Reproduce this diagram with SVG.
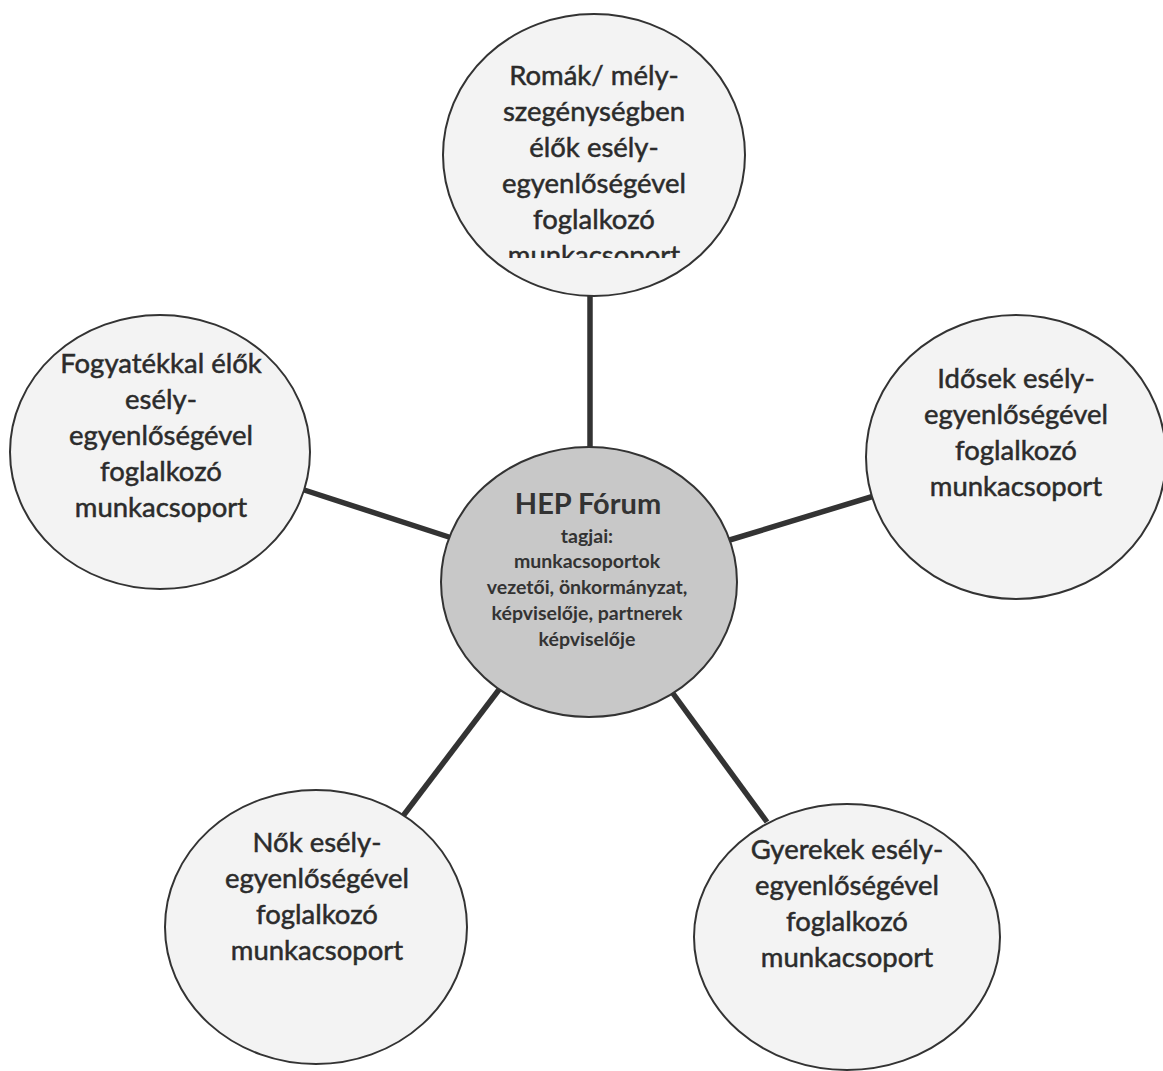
<svg xmlns="http://www.w3.org/2000/svg" width="1163" height="1071" viewBox="0 0 1163 1071">
  <style>
    .node { fill: #f3f3f3; stroke: #333333; stroke-width: 2; }
    .hub { fill: #c8c8c8; stroke: #333333; stroke-width: 2; }
    .conn { stroke: #333333; stroke-width: 5.5; stroke-linecap: butt; fill: none; }
    .t { font-family: Lato, "Liberation Sans", sans-serif; font-size: 27.5px; fill: #2b2b2b; stroke: #2b2b2b; stroke-width: 0.5; text-anchor: middle; }
    .h1 { font-family: Lato, "Liberation Sans", sans-serif; font-size: 29px; font-weight: bold; fill: #333333; text-anchor: middle; }
    .h2 { font-family: Lato, "Liberation Sans", sans-serif; font-size: 19.5px; font-weight: bold; fill: #333333; text-anchor: middle; }
  </style>
  <defs>
    <clipPath id="topclip"><rect x="430" y="0" width="330" height="258"/></clipPath>
  </defs>
  <rect x="0" y="0" width="1163" height="1071" fill="#ffffff"/>
  <g id="connectors">
    <line class="conn" x1="590" y1="285" x2="590" y2="460"/>
    <line class="conn" x1="295" y1="487" x2="455" y2="539"/>
    <line class="conn" x1="723" y1="542" x2="884" y2="493"/>
    <line class="conn" x1="501" y1="687" x2="403" y2="816"/>
    <line class="conn" x1="669" y1="688" x2="767" y2="822"/>
  </g>
  <g id="node-roma">
    <ellipse class="node" cx="594" cy="155" rx="151" ry="141"/>
    <g clip-path="url(#topclip)">
      <text class="t" x="594" y="85">Romák/ mély-</text>
      <text class="t" x="594" y="121">szegénységben</text>
      <text class="t" x="594" y="157">élők esély-</text>
      <text class="t" x="594" y="193">egyenlőségével</text>
      <text class="t" x="594" y="229">foglalkozó</text>
      <text class="t" x="594" y="265">munkacsoport</text>
    </g>
  </g>
  <g id="node-fogyatekkal">
    <ellipse class="node" cx="160" cy="452" rx="150" ry="137"/>
    <text class="t" x="161" y="373">Fogyatékkal élők</text>
    <text class="t" x="161" y="409">esély-</text>
    <text class="t" x="161" y="445">egyenlőségével</text>
    <text class="t" x="161" y="481">foglalkozó</text>
    <text class="t" x="161" y="517">munkacsoport</text>
  </g>
  <g id="node-idosek">
    <ellipse class="node" cx="1016" cy="457" rx="150" ry="142"/>
    <text class="t" x="1016" y="388">Idősek esély-</text>
    <text class="t" x="1016" y="424">egyenlőségével</text>
    <text class="t" x="1016" y="460">foglalkozó</text>
    <text class="t" x="1016" y="496">munkacsoport</text>
  </g>
  <g id="node-nok">
    <ellipse class="node" cx="316" cy="927" rx="151" ry="137"/>
    <text class="t" x="317" y="852">Nők esély-</text>
    <text class="t" x="317" y="888">egyenlőségével</text>
    <text class="t" x="317" y="924">foglalkozó</text>
    <text class="t" x="317" y="960">munkacsoport</text>
  </g>
  <g id="node-gyerekek">
    <ellipse class="node" cx="847" cy="937" rx="153" ry="133"/>
    <text class="t" x="847" y="859">Gyerekek esély-</text>
    <text class="t" x="847" y="895">egyenlőségével</text>
    <text class="t" x="847" y="931">foglalkozó</text>
    <text class="t" x="847" y="967">munkacsoport</text>
  </g>
  <g id="node-hep">
    <ellipse class="hub" cx="589" cy="582" rx="148" ry="135"/>
    <text class="h1" x="588" y="514">HEP Fórum</text>
    <text class="h2" x="587" y="543">tagjai:</text>
    <text class="h2" x="587" y="568">munkacsoportok</text>
    <text class="h2" x="587" y="594">vezetői, önkormányzat,</text>
    <text class="h2" x="587" y="620">képviselője, partnerek</text>
    <text class="h2" x="587" y="646">képviselője</text>
  </g>
</svg>
